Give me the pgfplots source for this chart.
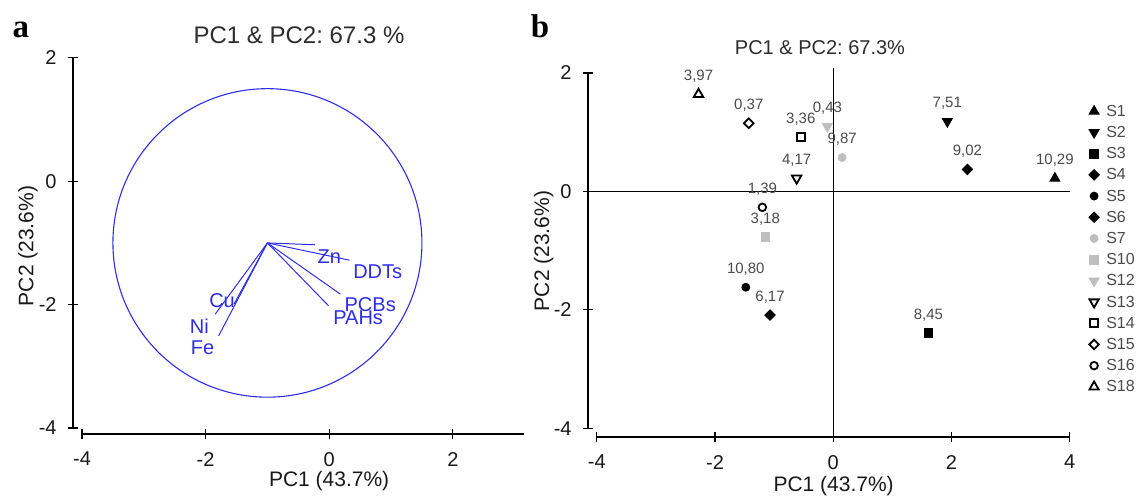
\documentclass[border=0pt]{standalone}
\usepackage{pgfplots}
\pgfplotsset{compat=1.18}
\usepackage{fontspec}
\setmainfont{Liberation Sans}
\newfontfamily\serifb{Liberation Serif}
\frenchspacing
\definecolor{pcablue}{RGB}{45,45,235}
\definecolor{ptgray}{RGB}{190,190,190}
\definecolor{txt}{RGB}{25,25,25}
\definecolor{ttl}{RGB}{45,45,45}
\definecolor{lbl}{RGB}{75,75,75}
\pgfplotsset{
  pcabase/.style={
    anchor=south west, clip=false,
    axis x line*=bottom, axis y line*=left,
    axis line style={draw=none},
    tick align=center, major tick length=5pt,
    tick style={black, line width=0.6pt},
    ticklabel style={font=\fontsize{10}{12}\selectfont, text=txt},
    xticklabel style={yshift=-3pt},
    yticklabel style={xshift=-2.2pt},
    /pgf/number format/assume math mode=true,
    label style={font=\fontsize{10.5}{12}\selectfont, text=txt},
  },
  mk/.style={only marks, black, legend image code/.code={\draw[mark repeat=2,mark phase=2,##1] plot coordinates {(0pt,0pt) (3pt,0pt) (6pt,0pt)};}},
}
\begin{document}
\begin{tikzpicture}
\useasboundingbox (0,0) rectangle (571pt,247.5pt);
\node[anchor=base, font=\serifb\bfseries\fontsize{16.5}{18}\selectfont] at (10.5pt,228.75pt) {a};
\node[anchor=base, font=\serifb\bfseries\fontsize{16.5}{18}\selectfont] at (270pt,228.75pt) {b};
\node[anchor=base, font=\fontsize{12}{14}\selectfont, text=ttl] at (149.5pt,226pt) {PC1 \& PC2: 67.3 \%};
\node[anchor=base, font=\fontsize{10}{12}\selectfont, text=ttl] at (410pt,220.5pt) {PC1 \& PC2: 67.3\%};

% ---------- panel a ----------
\begin{axis}[pcabase,
  at={(36.5pt,30.5pt)},
  x=30.9pt, y=30.85pt,
  xmin=-4.146, xmax=3.15, ymin=-4.097, ymax=2,
  xtick={-4,-2,0,2}, ytick={-4,-2,0,2},
  xlabel={PC1 (43.7\%)}, ylabel={PC2 (23.6\%)},
  xlabel style={at={(axis description cs:0.568,-0.125)}, anchor=center},
  ylabel style={at={(axis description cs:-0.100,0.5)}, anchor=center},
]
\draw[black, line width=0.6pt] (axis cs:-4.146,-4) -- (axis cs:-4.146,2);
\draw[black, line width=0.6pt] (axis cs:-4,-4.097) -- (axis cs:3.15,-4.097);
\draw[pcablue, line width=0.55pt] (axis cs:-1,-1) circle[radius=2.5];
\addplot[pcablue, line width=0.5pt] coordinates {(-1,-1) (-0.23,-1.03)};
\addplot[pcablue, line width=0.5pt] coordinates {(-1,-1) (0.33,-1.28)};
\addplot[pcablue, line width=0.5pt] coordinates {(-1,-1) (0.18,-1.83)};
\addplot[pcablue, line width=0.5pt] coordinates {(-1,-1) (-0.01,-2.02)};
\addplot[pcablue, line width=0.5pt] coordinates {(-1,-1) (-1.54,-1.99)};
\addplot[pcablue, line width=0.5pt] coordinates {(-1,-1) (-1.845,-2.156)};
\addplot[pcablue, line width=0.5pt] coordinates {(-1,-1) (-1.79,-2.507)};
\begin{scope}[every node/.style={inner sep=0pt, font=\fontsize{10}{12}\selectfont, text=pcablue}]
\node[anchor=north west] at (axis cs:-0.194,-1.102) {Zn};
\node[anchor=north west] at (axis cs:0.383,-1.345) {DDTs};
\node[anchor=north west] at (axis cs:0.243,-1.885) {PCBs};
\node[anchor=north west] at (axis cs:0.060,-2.091) {PAHs};
\node[anchor=north east] at (axis cs:-1.521,-1.820) {Cu};
\node[anchor=north east] at (axis cs:-1.942,-2.220) {Ni};
\node[anchor=north east] at (axis cs:-1.856,-2.577) {Fe};
\end{scope}
\end{axis}

% ---------- panel b ----------
\begin{axis}[pcabase,
  at={(294pt,29pt)},
  x=29.55pt, y=29.6pt,
  xmin=-4.15, xmax=4, ymin=-4.15, ymax=2,
  xtick={-4,-2,0,2,4}, ytick={-4,-2,0,2},
  xlabel={PC1 (43.7\%)}, ylabel={PC2 (23.6\%)},
  xlabel style={at={(axis description cs:0.510,-0.135)}, anchor=center},
  ylabel style={at={(axis description cs:-0.092,0.511)}, anchor=center},
  point meta=explicit symbolic,
  nodes near coords,
  every node near coord/.append style={anchor=center, yshift=9pt, font=\fontsize{7.5}{9}\selectfont, text=lbl},
  legend style={at={(axis description cs:1.039,0.915)}, anchor=north west, draw=none, fill=none, inner sep=0pt, row sep=3.6pt, column sep=3.5pt, font=\fontsize{8}{9}\selectfont, text=lbl, nodes={inner sep=0pt, text height=6pt, text depth=1pt}},
  legend cell align=left,
]
\draw[black, line width=0.6pt] (axis cs:-4.15,-4) -- (axis cs:-4.15,2);
\draw[black, line width=0.6pt] (axis cs:-4,-4.15) -- (axis cs:4,-4.15);
\draw[black, line width=0.6pt] (axis cs:-4.15,0) -- (axis cs:4,0);
\draw[black, line width=0.6pt] (axis cs:0,-4.15) -- (axis cs:0,2.08);
\addplot[mk, mark=triangle*, mark size=2.9pt, mark options={fill=black, draw=black}] coordinates {(3.75,0.22) [10,29]};
\addlegendentry{S1}
\addplot[mk, mark=triangle*, mark size=2.9pt, mark options={rotate=180, fill=black, draw=black}] coordinates {(1.93,1.18) [7,51]};
\addlegendentry{S2}
\addplot[mk, mark=square*, mark size=2.2pt, mark options={fill=black, draw=black}] coordinates {(1.61,-2.39) [8,45]};
\addlegendentry{S3}
\addplot[mk, mark=square*, mark size=1.85pt, mark options={rotate=45, fill=black, draw=black}] coordinates {(2.27,0.37) [9,02]};
\addlegendentry{S4}
\addplot[mk, mark=*, mark size=2pt, mark options={fill=black, draw=black}] coordinates {(-1.48,-1.62) [10,80]};
\addlegendentry{S5}
\addplot[mk, mark=square*, mark size=1.85pt, mark options={rotate=45, fill=black, draw=black}] coordinates {(-1.07,-2.09) [6,17]};
\addlegendentry{S6}
\addplot[mk, mark=*, mark size=2pt, mark options={fill=ptgray, draw=ptgray}] coordinates {(0.15,0.57) [9,87]};
\addlegendentry{S7}
\addplot[mk, mark=square*, mark size=2.2pt, mark options={fill=ptgray, draw=ptgray}] coordinates {(-1.15,-0.77) [3,18]};
\addlegendentry{S10}
\addplot[mk, mark=triangle*, mark size=2.9pt, mark options={rotate=180, fill=ptgray, draw=ptgray}] coordinates {(-0.10,1.10) [0,43]};
\addlegendentry{S12}
\addplot[mk, mark=triangle*, mark size=2.7pt, mark options={rotate=180, fill=white, draw=black, line width=0.9pt}] coordinates {(-0.62,0.22) [4,17]};
\addlegendentry{S13}
\addplot[mk, mark=square*, mark size=2pt, mark options={fill=white, draw=black, line width=0.9pt}] coordinates {(-0.55,0.92) [3,36]};
\addlegendentry{S14}
\addplot[mk, mark=square*, mark size=1.7pt, mark options={rotate=45, fill=white, draw=black, line width=0.9pt}] coordinates {(-1.43,1.15) [0,37]};
\addlegendentry{S15}
\addplot[mk, mark=*, mark size=1.9pt, mark options={fill=white, draw=black, line width=0.9pt}] coordinates {(-1.20,-0.27) [1,39]};
\addlegendentry{S16}
\addplot[mk, mark=triangle*, mark size=2.7pt, mark options={fill=white, draw=black, line width=0.9pt}] coordinates {(-2.28,1.64) [3,97]};
\addlegendentry{S18}
\end{axis}
\end{tikzpicture}
\end{document}
